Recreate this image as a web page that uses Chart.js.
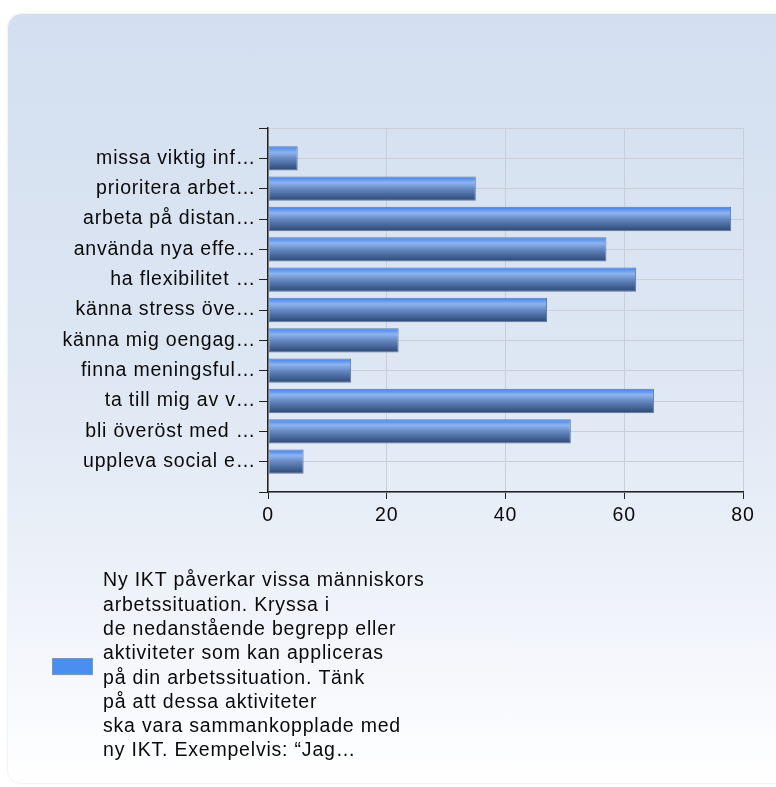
<!DOCTYPE html>
<html>
<head>
<meta charset="utf-8">
<script src="https://cdn.jsdelivr.net/npm/chart.js@4/dist/chart.umd.min.js"></script>
<style>
  html, body { margin: 0; padding: 0; background: #ffffff; }
  body { width: 776px; height: 787px; position: relative; overflow: hidden; }
  #card {
    position: absolute; left: 8px; top: 14px; width: 820px; height: 769px;
    border-radius: 14px;
    background: linear-gradient(to bottom, #d3dff0 0%, #dde6f3 45%, #eef2f9 75%, #ffffff 100%);
    box-shadow: 0 0 3px rgba(0,0,0,0.12);
  }
  #wrap { position: absolute; left: 0; top: 0; width: 776px; height: 787px; }
</style>
</head>
<body>
<div id="card"></div>
<div id="wrap"><canvas id="chart" width="776" height="787"></canvas></div>
<script>
// Answer options (truncated as shown on the axis)
const categories = [
  'missa viktig inf…',
  'prioritera arbet…',
  'arbeta på distan…',
  'använda nya effe…',
  'ha flexibilitet …',
  'känna stress öve…',
  'känna mig oengag…',
  'finna meningsful…',
  'ta till mig av v…',
  'bli överöst med …',
  'uppleva social e…'
];
// Number of respondents per option
const counts = [5, 35, 78, 57, 62, 47, 22, 14, 65, 51, 6];
// Value-axis ticks
const xTicks = [0, 20, 40, 60, 80];
// Series name shown in the legend
const seriesLines = [
  'Ny IKT påverkar vissa människors',
  'arbetssituation. Kryssa i',
  'de nedanstående begrepp eller',
  'aktiviteter som kan appliceras',
  'på din arbetssituation. Tänk',
  'på att dessa aktiviteter',
  'ska vara sammankopplade med',
  'ny IKT. Exempelvis: “Jag…'
];

// one empty slot above and below the categories gives the half-step margin
const labels = [''].concat(categories, ['']);
const values = [null].concat(counts, [null]);

const FONT = '"Liberation Sans", Arial, sans-serif';
const FONT_SIZE = 19.5;
const SPACING = '0.8px';

// wide text tracking for every label drawn on the canvas
const trackingPlugin = {
  id: 'tracking',
  beforeUpdate(chart) { chart.ctx.letterSpacing = SPACING; },
  beforeLayout(chart) { chart.ctx.letterSpacing = SPACING; },
  beforeDraw(chart) { chart.ctx.letterSpacing = SPACING; }
};

// glossy vertical gradient per bar
const barShadePlugin = {
  id: 'barShade',
  beforeDatasetsDraw(chart) {
    const c = chart.ctx;
    chart.getDatasetMeta(0).data.forEach(el => {
      if (!el || el.skip || el.height === undefined || isNaN(el.y)) return;
      const top = el.y - el.height / 2;
      const bot = el.y + el.height / 2;
      const g = c.createLinearGradient(0, top, 0, bot);
      g.addColorStop(0, '#3d7fec');
      g.addColorStop(0.25, '#8db4f0');
      g.addColorStop(0.5, '#6689c2');
      g.addColorStop(1, '#2a4674');
      el.options = Object.assign({}, el.options, { backgroundColor: g });
    });
  }
};

const legendPlugin = {
  id: 'multiLineLegend',
  afterDraw(chart) {
    const c = chart.ctx;
    c.save();
    c.letterSpacing = SPACING;
    const lineH = 24.3;
    const firstY = 581;
    c.font = FONT_SIZE + 'px ' + FONT;
    c.fillStyle = '#0a0a0a';
    c.textAlign = 'left';
    c.textBaseline = 'middle';
    seriesLines.forEach((t, i) => c.fillText(t, 103, firstY + i * lineH));
    const midY = firstY + (seriesLines.length - 1) * lineH / 2;
    c.fillStyle = '#4a8ef0';
    c.fillRect(52, midY - 8, 41, 17);
    c.strokeStyle = '#7f95b5';
    c.lineWidth = 1;
    c.strokeRect(52.5, midY - 7.5, 40, 16);
    c.restore();
  }
};

new Chart(document.getElementById('chart'), {
  type: 'bar',
  data: {
    labels: labels,
    datasets: [{
      label: seriesLines.join(' '),
      data: values,
      backgroundColor: '#4a8ae8',
      borderColor: '#5d77a0',
      borderWidth: 1,
      borderSkipped: false,
      categoryPercentage: 1,
      barPercentage: 0.8
    }]
  },
  options: {
    indexAxis: 'y',
    responsive: false,
    animation: false,
    layout: { padding: { left: 0, right: 33, top: 128, bottom: 255 } },
    plugins: {
      legend: { display: false },
      tooltip: { enabled: false }
    },
    scales: {
      x: {
        type: 'linear',
        min: 0,
        max: 80,
        afterBuildTicks(scale) { scale.ticks = xTicks.map(v => ({ value: v })); },
        afterFit(scale) { scale.height = 40; },
        grid: { color: '#c9ced8', tickColor: '#222222', tickLength: 7, lineWidth: 1 },
        border: { color: '#222222', width: 1.5 },
        ticks: { color: '#0a0a0a', font: { family: FONT, size: FONT_SIZE }, padding: 5 }
      },
      y: {
        type: 'category',
        offset: false,
        afterFit(scale) { scale.width = 268; },
        grid: { offset: false, color: '#c9ced8', tickColor: '#222222', tickLength: 9, lineWidth: 1 },
        border: { color: '#222222', width: 1.5 },
        ticks: { color: '#0a0a0a', font: { family: FONT, size: FONT_SIZE }, padding: 3, autoSkip: false }
      }
    }
  },
  plugins: [trackingPlugin, barShadePlugin, legendPlugin]
});
</script>
</body>
</html>
